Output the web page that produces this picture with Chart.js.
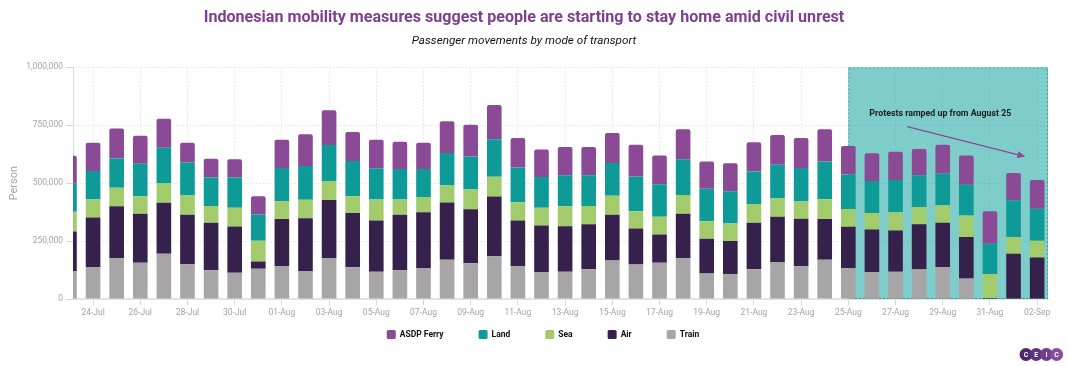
<!DOCTYPE html>
<html>
<head>
<meta charset="utf-8">
<script src="https://cdn.jsdelivr.net/npm/chart.js@4.4.1/dist/chart.umd.min.js"></script>
<style>
  html, body { margin: 0; padding: 0; background: #fff; }
</style>
</head>
<body>
<canvas id="mobilityChart" width="1070" height="366"></canvas>
<script>
// daily labels, 23-Jul to 02-Sep
const dates = [
  '23-Jul', '24-Jul', '25-Jul', '26-Jul', '27-Jul', '28-Jul', '29-Jul', '30-Jul', '31-Jul',
  '01-Aug', '02-Aug', '03-Aug', '04-Aug', '05-Aug', '06-Aug', '07-Aug', '08-Aug', '09-Aug', '10-Aug',
  '11-Aug', '12-Aug', '13-Aug', '14-Aug', '15-Aug', '16-Aug', '17-Aug', '18-Aug', '19-Aug', '20-Aug',
  '21-Aug', '22-Aug', '23-Aug', '24-Aug', '25-Aug', '26-Aug', '27-Aug', '28-Aug', '29-Aug', '30-Aug',
  '31-Aug', '01-Sep', '02-Sep'
];

// passengers per day, by mode (stack order: train at the bottom, ferry on top)
const train = [121000, 138000, 176000, 157000, 195000, 150000, 124000, 113000, 131000, 143000, 121000, 177000, 137000, 118000,
  124000, 134000, 169000, 154000, 185000, 141000, 117000, 118000, 128000, 166000, 149000, 157000, 176000, 110000,
  107000, 128000, 160000, 141000, 169000, 133000, 117000, 118000, 128000, 138000, 89000, 0, 0, 0];
const air = [170000, 214000, 224000, 211000, 220000, 214000, 205000, 200000, 31000, 202000, 228000, 250000, 234000, 221000,
  240000, 240000, 248000, 233000, 258000, 198000, 200000, 196000, 195000, 198000, 155000, 121000, 192000, 150000,
  143000, 201000, 195000, 205000, 176000, 179000, 183000, 178000, 195000, 191000, 179000, 4000, 195000, 179000];
const sea = [86000, 78000, 80000, 76000, 84000, 83000, 73000, 81000, 89000, 76000, 79000, 82000, 73000, 91000,
  66000, 66000, 73000, 86000, 85000, 79000, 77000, 86000, 79000, 82000, 75000, 77000, 81000, 76000,
  76000, 81000, 79000, 75000, 86000, 76000, 71000, 78000, 74000, 76000, 93000, 104000, 73000, 73000];
const land = [121000, 123000, 127000, 140000, 154000, 142000, 122000, 130000, 114000, 145000, 146000, 156000, 152000, 134000,
  131000, 121000, 140000, 142000, 162000, 150000, 133000, 134000, 132000, 141000, 150000, 140000, 154000, 140000,
  139000, 140000, 146000, 145000, 163000, 150000, 138000, 140000, 137000, 137000, 132000, 131000, 158000, 138000];
const ferry = [120000, 122000, 129000, 121000, 125000, 85000, 82000, 79000, 79000, 122000, 137000, 150000, 125000, 123000,
  118000, 113000, 137000, 137000, 148000, 127000, 118000, 122000, 122000, 130000, 137000, 124000, 130000, 118000,
  121000, 127000, 128000, 129000, 139000, 123000, 120000, 122000, 114000, 124000, 127000, 140000, 118000, 124000];

const yTicks = [0, 250000, 500000, 750000, 1000000];
const protestStart = '25-Aug';

Chart.defaults.font.family = 'Roboto';

function points(values) {
  return values.map((v, i) => ({ x: i, y: v }));
}

// shaded protest period, note and arrow
const protestBand = {
  id: 'protestBand',
  beforeDatasetsDraw(chart) {
    const { ctx, chartArea, scales: { x, y } } = chart;
    const left = x.getPixelForValue(dates.indexOf(protestStart));
    const top = y.getPixelForValue(y.max);
    const bottom = y.getPixelForValue(0);
    ctx.save();
    ctx.fillStyle = 'rgba(0, 156, 151, 0.5)';
    ctx.fillRect(left, top, chartArea.right - left, bottom - top);
    ctx.setLineDash([2, 2]);
    ctx.strokeStyle = 'rgba(0, 128, 124, 0.55)';
    ctx.lineWidth = 1;
    ctx.strokeRect(left + 0.5, top + 0.5, chartArea.right - left - 1, bottom - top - 1);
    ctx.restore();
  },
  afterDatasetsDraw(chart) {
    const { ctx, scales: { x, y } } = chart;
    ctx.save();
    ctx.font = 'bold 9.5px Roboto';
    ctx.fillStyle = '#1c1c1c';
    ctx.textAlign = 'center';
    ctx.textBaseline = 'middle';
    ctx.fillText('Protests ramped up from August 25', x.getPixelForValue(36.9), y.getPixelForValue(802000), 142);

    const x1 = x.getPixelForValue(35.5), y1 = y.getPixelForValue(744000);
    const x2 = x.getPixelForValue(40.5), y2 = y.getPixelForValue(615000);
    const ang = Math.atan2(y2 - y1, x2 - x1);
    ctx.strokeStyle = '#8a4896';
    ctx.fillStyle = '#8a4896';
    ctx.lineWidth = 1.3;
    ctx.beginPath();
    ctx.moveTo(x1, y1);
    ctx.lineTo(x2 - 6 * Math.cos(ang), y2 - 6 * Math.sin(ang));
    ctx.stroke();
    ctx.beginPath();
    ctx.moveTo(x2, y2);
    ctx.lineTo(x2 - 8 * Math.cos(ang) + 3.5 * Math.sin(ang), y2 - 8 * Math.sin(ang) - 3.5 * Math.cos(ang));
    ctx.lineTo(x2 - 8 * Math.cos(ang) - 3.5 * Math.sin(ang), y2 - 8 * Math.sin(ang) + 3.5 * Math.cos(ang));
    ctx.closePath();
    ctx.fill();
    ctx.restore();
  }
};

// legend row under the axis, widely spaced, plus the CEIC badge
const bottomLegend = {
  id: 'bottomLegend',
  afterDraw(chart) {
    const ctx = chart.ctx;
    const items = chart.data.datasets.slice().reverse();
    const box = 9, gap = 4, spacing = 35, cy = 334.5;
    ctx.save();
    ctx.font = 'bold 8.5px Roboto';
    ctx.textBaseline = 'middle';
    const widths = items.map(d => box + gap + ctx.measureText(d.label).width);
    const total = widths.reduce((a, b) => a + b, 0) + spacing * (items.length - 1);
    let x = 543 - total / 2;
    items.forEach((d, i) => {
      ctx.fillStyle = d.backgroundColor;
      ctx.beginPath();
      ctx.roundRect(x, cy - box / 2, box, box, 1.5);
      ctx.fill();
      ctx.fillStyle = '#111';
      ctx.fillText(d.label, x + box + gap, cy);
      x += widths[i] + spacing;
    });

    const logo = ['C', 'E', 'I', 'C'];
    const shades = ['#4a2a6c', '#5e3380', '#733d8f', '#8a4a9e'];
    ctx.font = 'bold 7px Roboto';
    ctx.textAlign = 'center';
    logo.forEach((ch, i) => {
      const lx = 1026 + i * 10.2;
      ctx.fillStyle = shades[i];
      ctx.beginPath();
      ctx.arc(lx, 354.5, 6.5, 0, Math.PI * 2);
      ctx.fill();
      ctx.fillStyle = '#fff';
      ctx.fillText(ch, lx, 355);
    });
    ctx.restore();
  }
};

const ctx = document.getElementById('mobilityChart').getContext('2d');
const mobilityChart = new Chart(ctx, {
  type: 'bar',
  data: {
    datasets: [
      { label: 'Train', data: points(train), backgroundColor: '#a7a5a6' },
      { label: 'Air', data: points(air), backgroundColor: '#35214b' },
      { label: 'Sea', data: points(sea), backgroundColor: '#a2cc6c' },
      { label: 'Land', data: points(land), backgroundColor: '#0e9a97' },
      { label: 'ASDP Ferry', data: points(ferry), backgroundColor: '#8b4a96' }
    ]
  },
  options: {
    responsive: false,
    animation: false,
    categoryPercentage: 1,
    barPercentage: 0.62,
    borderRadius: 2,
    layout: { padding: { left: 0, right: 22, top: 0, bottom: 45 } },
    scales: {
      x: {
        type: 'linear',
        stacked: true,
        offset: false,
        min: 0.15,
        max: 41.46,
        afterBuildTicks: axis => {
          axis.ticks = dates.map((d, i) => ({ value: i })).filter(t => t.value % 2 === 1);
        },
        afterFit: scale => { scale.height = 22; },
        ticks: {
          autoSkip: false,
          maxRotation: 0,
          padding: 3,
          color: '#a3a3ab',
          font: { size: 8.5 },
          callback: v => dates[v]
        },
        grid: { offset: false, color: '#e4e4e4', tickLength: 6, tickColor: '#d6d6d6' },
        border: { color: '#e2e2e2', width: 2, dash: [1.5, 2] }
      },
      y: {
        stacked: true,
        min: 0,
        max: 1000000,
        afterBuildTicks: axis => { axis.ticks = yTicks.map(v => ({ value: v })); },
        afterFit: scale => { scale.width = 73; },
        ticks: { color: '#a3a3ab', font: { size: 8.5 }, padding: 3 },
        title: {
          display: true,
          text: 'Person',
          color: '#a3a3ab',
          font: { size: 11 },
          padding: { top: 8, bottom: 0 }
        },
        grid: { color: '#e4e4e4', tickLength: 7, tickColor: '#d6d6d6' },
        border: { color: '#d9d9d9', width: 1, dash: [1.5, 2] }
      }
    },
    plugins: {
      legend: { display: false },
      tooltip: { enabled: false },
      title: {
        display: true,
        text: 'Indonesian mobility measures suggest people are starting to stay home amid civil unrest',
        color: '#7e3f8f',
        font: { size: 16.1, weight: 'bold' },
        padding: { top: 8, bottom: 3 }
      },
      subtitle: {
        display: true,
        text: 'Passenger movements by mode of transport',
        color: '#111',
        font: { size: 11.7, style: 'italic' },
        padding: { top: 4, bottom: 19 }
      }
    }
  },
  plugins: [protestBand, bottomLegend]
});
</script>
</body>
</html>
